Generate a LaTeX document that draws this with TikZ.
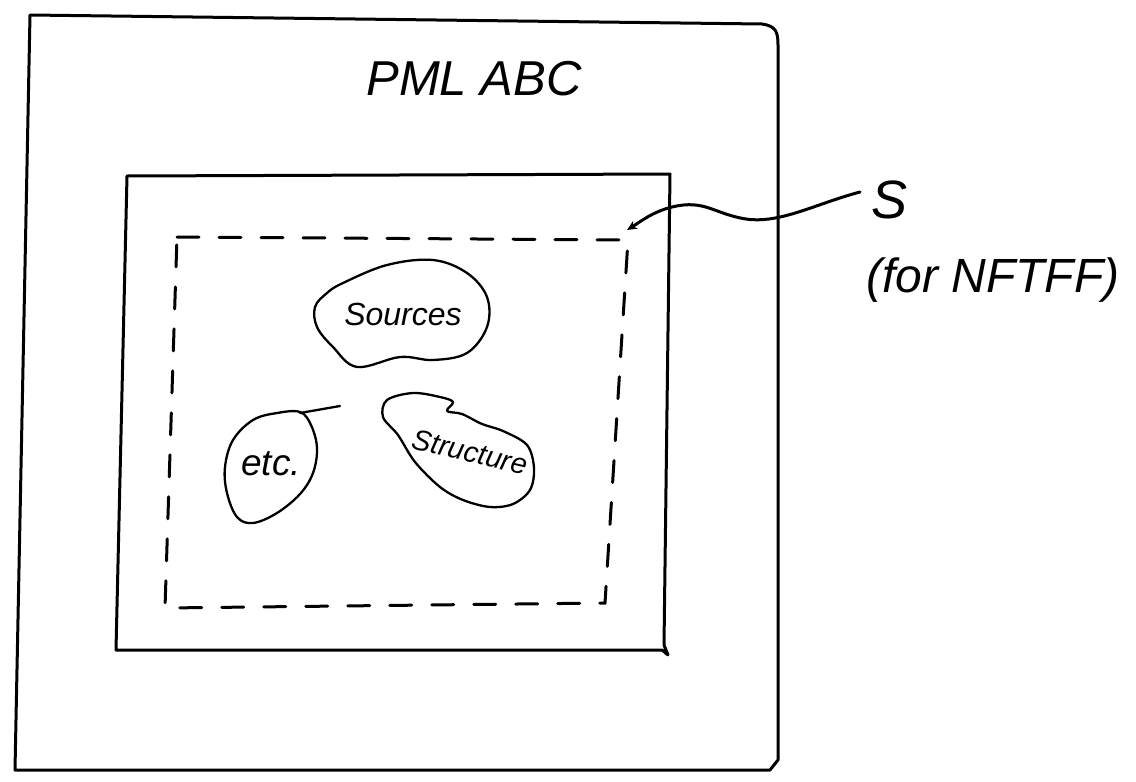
\documentclass[tikz,border=0pt]{standalone}
\usepackage{fontspec}
\setmainfont{Liberation Sans}
\usetikzlibrary{arrows.meta}
\begin{document}
\begin{tikzpicture}[x=1pt,y=-1pt,
  ink/.style={line width=3pt,line cap=round,line join=round},
  thinink/.style={line width=2.3pt,line cap=round,line join=round},
  dashink/.style={line width=3pt,dash pattern=on 22pt off 20pt,line cap=round},
  hand/.style={font=\itshape,inner sep=0pt}]
\useasboundingbox (0,0) rectangle (1136,782);
% outer box
\coordinate (o1) at (30,15);
\coordinate (o2) at (762,24);
\coordinate (o3) at (778,760);
\coordinate (o4) at (15,770);
\draw[ink] (o1) -- (o2) .. controls (776,26) and (778,32) .. (778,45) -- (o3) -- (770,770) -- (o4) -- cycle;
% inner solid box
\coordinate (i1) at (127,176);
\coordinate (i2) at (670,174);
\coordinate (i3) at (664,645);
\coordinate (i4) at (116,650);
\draw[ink] (i1) -- (i2) -- (i3) -- (668,655) -- (662,650) -- (i4) -- cycle;
% dashed box
\coordinate (d1) at (177,237);
\coordinate (d2) at (628,240);
\coordinate (d3) at (605,603);
\coordinate (d4) at (165,608);
\draw[dashink] (d1) -- (d2) -- (d3) -- (d4) -- cycle;
\coordinate (dS) at (627,230);
% title
\node[hand,font=\itshape\fontsize{49}{51}\selectfont] (title) at (474,79) {PML ABC};
% S label
\node[hand,font=\itshape\fontsize{54}{56}\selectfont] (S) at (890,200) {S};
\node[hand,font=\itshape\fontsize{48}{50}\selectfont] (nf) at (993,280) {(for NFTFF)};
\coordinate (sEnd) at (860,192);
\draw[ink,-{Stealth[length=10pt,width=9pt]}] (sEnd) .. controls (815,204) and (780,224) .. (746,219)
  .. controls (714,214) and (705,199) .. (672,207) .. controls (652,212) and (640,222) .. (dS);
% Sources blob
\node[hand,font=\itshape\fontsize{32}{34}\selectfont] (src) at (403,314) {Sources};
\draw[thinink] plot[smooth cycle,tension=0.6] coordinates {(343,283) (387,265) (433,260) (467,273) (487,297) (487,327) (467,353) (433,360) (400,357) (357,367) (333,347) (317,327) (315,307) (327,293)};
% Structure blob
\node[hand,font=\itshape\fontsize{29}{31}\selectfont,rotate=-13] (str) at (470,452) {Structure};
\draw[thinink] plot[smooth cycle,tension=0.55] coordinates {(387,400) (413,393) (440,397) (453,402) (447,411) (462,414) (482,424) (503,431) (527,445) (534,468) (530,490) (513,504) (490,507) (463,500) (440,487) (415,462) (398,435) (383,417)};
% etc blob
\node[hand,font=\itshape\fontsize{37}{39}\selectfont] (etc) at (271,464) {etc.};
\draw[thinink] plot[smooth cycle,tension=0.6] coordinates {(300,412) (311,425) (317,448) (313,473) (300,494) (277,513) (253,523) (237,517) (227,493) (225,467) (233,440) (253,420) (277,413)};
\coordinate (etcTop) at (300,413);
\coordinate (etcEnd) at (340,406);
\draw[thinink] (etcTop) -- (etcEnd);
\end{tikzpicture}
\end{document}
